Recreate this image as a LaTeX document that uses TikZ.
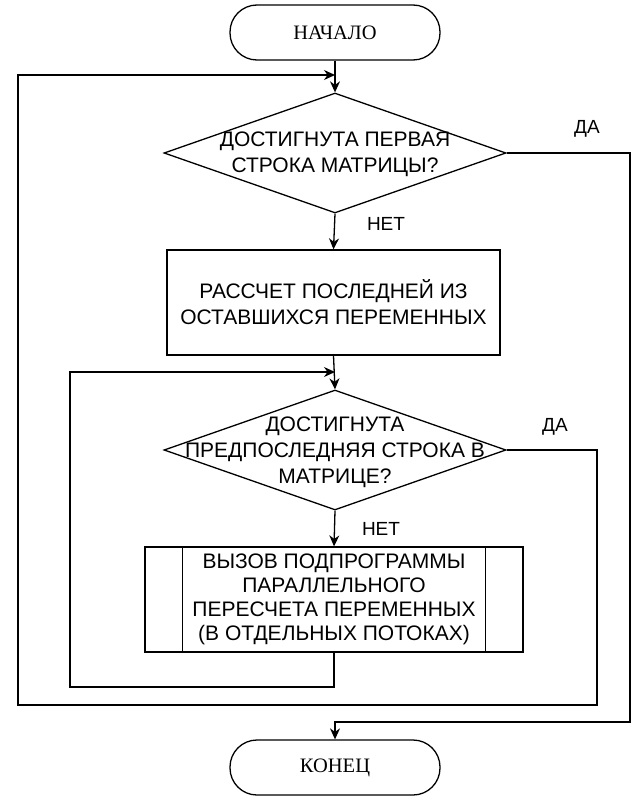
\documentclass[tikz,border=0pt]{standalone}
\usepackage{fontspec}
\setmainfont{Liberation Serif}
\newfontfamily\sansf{Liberation Sans}
\usetikzlibrary{shapes.geometric,arrows.meta}
\tikzset{
  x=1pt,y=-1pt,
  every path/.style={line width=1.3pt},
  term/.style={draw,rounded corners=27pt,minimum width=210pt,minimum height=55pt,inner sep=0pt,font=\fontsize{20.5}{24}\selectfont},
  dec/.style={draw,diamond,minimum width=342pt,minimum height=120pt,inner sep=0pt},
  dtext/.style={align=center,font=\sansf\fontsize{21}{26}\selectfont,inner sep=0pt},
  proc/.style={draw,minimum width=333pt,minimum height=105pt,inner sep=0pt,align=center,font=\sansf\fontsize{21}{26}\selectfont},
  subp/.style={draw,minimum width=378pt,minimum height=105pt,inner sep=0pt,align=center,font=\sansf\fontsize{21}{24}\selectfont},
  lbl/.style={font=\sansf\fontsize{19}{22}\selectfont,inner sep=0pt},
  arr/.style={-{Stealth[length=11pt,width=10pt]}}
}
\begin{document}
\begin{tikzpicture}
\useasboundingbox (0,0) rectangle (639,797);
\node[term] (start) at (335,32.5) {НАЧАЛО};
\node[dec] (d1) at (335,153) {};
\node[dtext] (d1t) at (335,154) {ДОСТИГНУТА ПЕРВАЯ\\СТРОКА МАТРИЦЫ?};
\node[proc] (p1) at (333.5,302.5) {РАССЧЕТ ПОСЛЕДНЕЙ ИЗ\\ОСТАВШИХСЯ ПЕРЕМЕННЫХ};
\node[dec] (d2) at (335,450) {};
\node[dtext] (d2t) at (335,452) {ДОСТИГНУТА\\ПРЕДПОСЛЕДНЯЯ СТРОКА В\\МАТРИЦЕ?};
\node[subp] (s1) at (334,599.5) {ВЫЗОВ ПОДПРОГРАММЫ\\ПАРАЛЛЕЛЬНОГО\\ПЕРЕСЧЕТА ПЕРЕМЕННЫХ\\(В ОТДЕЛЬНЫХ ПОТОКАХ)};
\draw ([xshift=38pt]s1.north west) -- ([xshift=38pt]s1.south west);
\draw ([xshift=-38pt]s1.north east) -- ([xshift=-38pt]s1.south east);
\node[term] (end) at (335,767.5) {КОНЕЦ};
\coordinate (m1) at (335,75);
\coordinate (m2) at (335,372);
\coordinate (l1) at (18,75);
\coordinate (r1) at (630,722);
\coordinate (r2) at (597,705);
\coordinate (l2) at (70,687);
\draw[arr] (start) -- (d1.north);
\draw[arr] (d1.south) -- (p1.north);
\draw[arr] (p1.south) -- (d2.north);
\draw[arr] (d2.south) -- (s1.north);
\draw[arr] (s1.south) |- (l2) |- (m2);
\draw[arr] (d2.east) -| (r2) -| (l1) -- (m1);
\draw[arr] (d1.east) -| (r1) -| (end.north);
\node[lbl] (da1) at (587,129) {ДА};
\node[lbl] (net1) at (386,224) {НЕТ};
\node[lbl] (da2) at (555,427) {ДА};
\node[lbl] (net2) at (381,529) {НЕТ};
\end{tikzpicture}
\end{document}
